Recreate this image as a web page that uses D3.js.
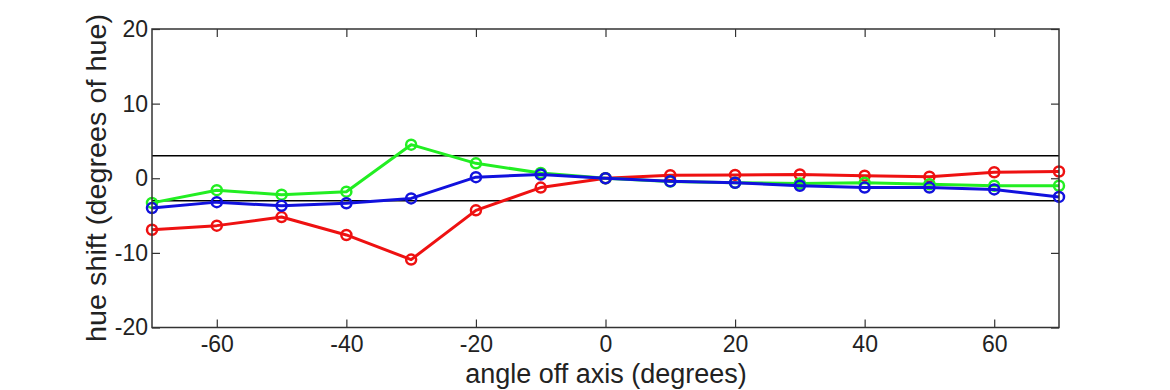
<!DOCTYPE html>
<html><head><meta charset="utf-8">
<script src="https://cdn.jsdelivr.net/npm/d3@7"></script>
<style>body{margin:0;background:#fff}svg{display:block}</style>
</head><body>
<svg id="c" width="1170" height="390"></svg>
<script>
const angles = [-70,-60,-50,-40,-30,-20,-10,0,10,20,30,40,50,60,70];
const redShift   = [-6.9,-6.35,-5.2,-7.6,-10.9,-4.3,-1.25,0,0.4,0.45,0.5,0.35,0.2,0.8,0.9];
const greenShift = [-3.3,-1.6,-2.2,-1.8,4.5,2.0,0.7,0,-0.45,-0.6,-0.7,-0.6,-0.8,-1.0,-1.0];
const blueShift  = [-4.0,-3.2,-3.7,-3.35,-2.7,0.15,0.5,0,-0.4,-0.6,-1.0,-1.25,-1.25,-1.5,-2.5];
const xTicks = [-60,-40,-20,0,20,40,60];
const yTicks = [-20,-10,0,10,20];
const toleranceLines = [3,-3];
const seriesList = [
  {name:"red", values:redShift, color:"#ee1111"},
  {name:"green", values:greenShift, color:"#22ee22"},
  {name:"blue", values:blueShift, color:"#1111dd"}
];

const svg = d3.select("#c");
const L=152, R=1059, T=29, B=327.5;
const x = d3.scaleLinear().domain([-70,70]).range([L,R]);
const y = d3.scaleLinear().domain([-20,20]).range([B,T]);
const font = "'Liberation Sans', Arial, sans-serif";
const axisColor = "#333";
const fmt = d => String(d); // plain hyphen-minus like the reference

// tolerance lines
svg.selectAll("line.tol").data(toleranceLines).enter().append("line")
  .attr("x1",L).attr("x2",R).attr("y1",d=>y(d)).attr("y2",d=>y(d))
  .attr("stroke","#000").attr("stroke-width",1.5);

// series
const line = d3.line().x((d,i)=>x(angles[i])).y(d=>y(d));
seriesList.forEach(s=>{
  const g = svg.append("g");
  g.append("path").datum(s.values).attr("d",line).attr("fill","none")
    .attr("stroke",s.color).attr("stroke-width",3).attr("stroke-linejoin","round");
  g.selectAll("circle").data(s.values).enter().append("circle")
    .attr("cx",(d,i)=>x(angles[i])).attr("cy",d=>y(d)).attr("r",5)
    .attr("fill","none").attr("stroke",s.color).attr("stroke-width",2.5);
});

// axes box with inside ticks
const styleAxis = g=>{
  g.select(".domain").remove();
  g.selectAll(".tick line").attr("stroke",axisColor).attr("stroke-width",1.2);
  g.selectAll("text").attr("font-family",font).attr("font-size",23).attr("fill","#222");
};
svg.append("g").attr("transform",`translate(0,${B})`)
  .call(d3.axisBottom(x).tickValues(xTicks).tickSizeInner(-8).tickSizeOuter(0).tickPadding(8).tickFormat(fmt))
  .call(styleAxis);
svg.append("g").attr("transform",`translate(0,${T})`)
  .call(d3.axisTop(x).tickValues(xTicks).tickSizeInner(-8).tickSizeOuter(0).tickFormat(""))
  .call(styleAxis);
svg.append("g").attr("transform",`translate(${L},0)`)
  .call(d3.axisLeft(y).tickValues(yTicks).tickSizeInner(-8).tickSizeOuter(0).tickPadding(4).tickFormat(fmt))
  .call(styleAxis);
svg.append("g").attr("transform",`translate(${R},0)`)
  .call(d3.axisRight(y).tickValues(yTicks).tickSizeInner(-8).tickSizeOuter(0).tickFormat(""))
  .call(styleAxis);
svg.append("rect").attr("x",L).attr("y",T).attr("width",R-L).attr("height",B-T)
  .attr("fill","none").attr("stroke",axisColor).attr("stroke-width",1.5);

// labels
svg.append("text").attr("x",606).attr("y",383).attr("text-anchor","middle")
  .attr("font-family",font).attr("font-size",27).attr("fill","#222").text("angle off axis (degrees)");
svg.append("text").attr("transform",`translate(106,178) rotate(-90)`).attr("text-anchor","middle")
  .attr("font-family",font).attr("font-size",28).attr("fill","#222")
  .attr("textLength",328).attr("lengthAdjust","spacingAndGlyphs")
  .text("hue shift (degrees of hue)");
</script>
</body></html>
